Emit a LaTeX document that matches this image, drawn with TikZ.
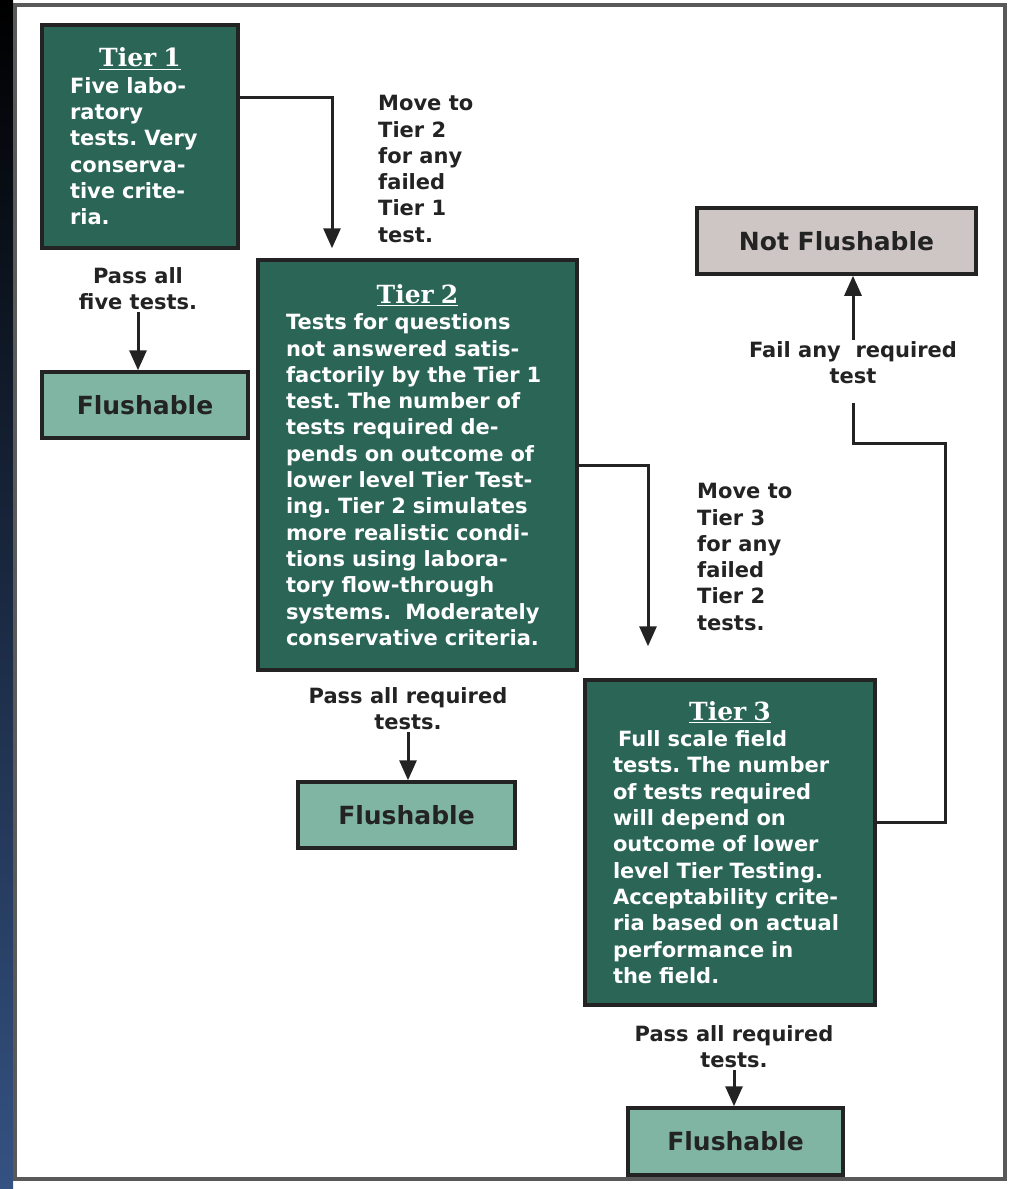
\documentclass[tikz,border=0pt]{standalone}
\usepackage{fontspec}
\setmainfont{DejaVu Sans}
\newfontfamily\tiertitlefont{DejaVu Serif}
\usetikzlibrary{arrows.meta, positioning}
\frenchspacing

\definecolor{tiergreen}{RGB}{42,101,85}
\definecolor{flushgreen}{RGB}{128,181,164}
\definecolor{notgray}{RGB}{206,198,196}
\definecolor{linegray}{RGB}{35,35,35}
\definecolor{slideblue}{RGB}{52,82,130}

\newcommand{\tiertitle}[1]{\makebox[\linewidth]{\tiertitlefont\fontsize{25}{26}\selectfont\underline{#1}}}

\begin{document}
\begin{tikzpicture}[x=1pt, y=-1pt, >={Triangle[length=20pt,width=17pt]},
  font=\bfseries\fontsize{21}{26.3}\selectfont,
  tier/.style={draw=linegray, line width=3.5pt, fill=tiergreen, text=white, align=left, inner xsep=28pt, inner ysep=0pt},
  result/.style={draw=linegray, line width=3.5pt, text=linegray, font=\bfseries\fontsize{25}{30}\selectfont},
  remark/.style={text=linegray, inner sep=2pt},
  link/.style={draw=linegray, line width=3pt}]
\useasboundingbox (0,0) rectangle (1012,1189);
\shade[top color=black, middle color=black, bottom color=slideblue] (0,0) rectangle (13,1189);
\draw[line width=4pt, draw=black!65] (15,5) rectangle (1005,1179);
%
\node[tier, text width=140pt, minimum height=223pt] (tierone) at (140,136.5)
  {\tiertitle{Tier 1}\\ Five labo-\\ ratory\\ tests. Very\\ conserva-\\ tive crite-\\ ria.};
\node[tier, text width=263pt, minimum height=410pt] (tiertwo) at (417.5,465)
  {\tiertitle{Tier 2}\\ Tests for questions\\ not answered satis-\\ factorily by the Tier 1\\ test. The number of\\ tests required de-\\ pends on outcome of\\ lower level Tier Test-\\ ing. Tier 2 simulates\\ more realistic condi-\\ tions using labora-\\ tory flow-through\\ systems.~ Moderately\\ conservative criteria.};
\node[tier, text width=234pt, minimum height=325pt] (tierthree) at (730,842.5)
  {\tiertitle{Tier 3}\\ \hspace*{5pt}Full scale field\\ tests. The number\\ of tests required\\ will depend on\\ outcome of lower\\ level Tier Testing.\\ Acceptability crite-\\ ria based on actual\\ performance in\\ the field.};
%
\node[result, fill=flushgreen, minimum width=206pt, minimum height=66pt] (flushone) at (145,405) {Flushable};
\node[result, fill=flushgreen, minimum width=217pt, minimum height=66pt] (flushtwo) at (406.5,815) {Flushable};
\node[result, fill=flushgreen, minimum width=215pt, minimum height=67pt] (flushthree) at (735.5,1141.5) {Flushable};
\node[result, fill=notgray, minimum width=279pt, minimum height=66pt] (notflush) at (836.5,241) {Not Flushable};
%
\node[remark, align=center] (passone) at (138,289) {Pass all\\five tests.};
\node[remark, align=left, anchor=west] (movetwo) at (376,169) {Move to\\Tier 2\\for any\\failed\\Tier 1\\test.};
\node[remark, align=center] (passtwo) at (408,709) {Pass all required\\tests.};
\node[remark, align=left, anchor=west] (movethree) at (695,557) {Move to\\Tier 3\\for any\\failed\\Tier 2\\tests.};
\node[remark, align=center] (passthree) at (734,1047) {Pass all required\\tests.};
\node[remark, align=center] (fail) at (853,363) {Fail any~ required\\test};
%
\draw[link, ->, shorten >=10pt] (tierone.east |- 0,97) -| ([xshift=-85.5pt]tiertwo.north);
\draw[link, ->] (passone.south) -- (passone.south |- flushone.north);
\draw[link, ->, shorten >=32pt] (tiertwo.east) -| ([xshift=-82pt]tierthree.north);
\draw[link, ->] (passtwo.south) -- (passtwo.south |- flushtwo.north);
\draw[link, ->] (passthree.south) -- (passthree.south |- flushthree.north);
\draw[link] (tierthree.east |- 0,822) -| (945,443) -| (fail.south |- 0,403);
\draw[link, ->] (fail.north) -- (fail.north |- notflush.south);
\end{tikzpicture}
\end{document}
